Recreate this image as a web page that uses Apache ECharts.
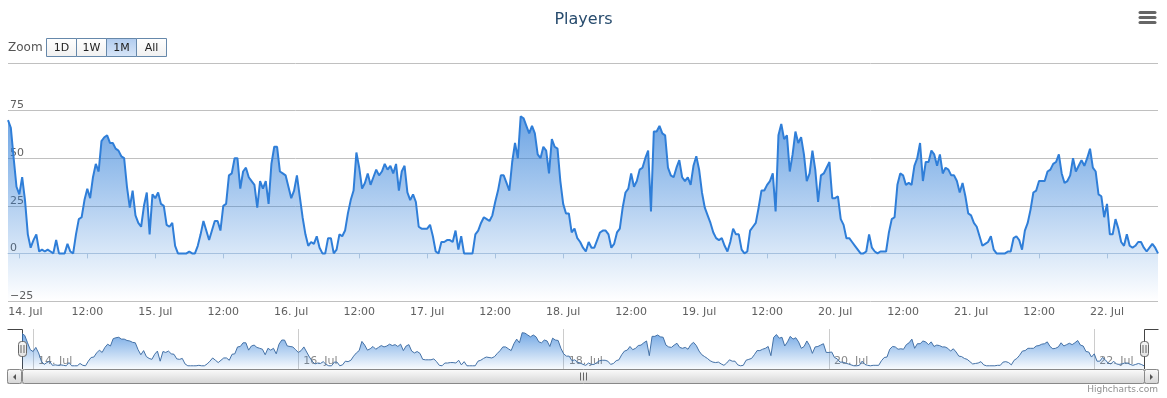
<!DOCTYPE html>
<html>
<head>
<meta charset="utf-8">
<title>Players</title>
<script src="https://cdn.jsdelivr.net/npm/echarts@6/dist/echarts.min.js"></script>
<style>
  html, body { margin: 0; padding: 0; background: #fff; }
  #chart { width: 1167px; height: 398px; }
</style>
</head>
<body>
<div id="chart"></div>
<script>
const FONT = '"Lucida Grande", "Lucida Sans Unicode", "DejaVu Sans", Verdana, sans-serif';

// half-hour samples, first one at 13 Jul 22:00 (UTC)
const startTime = Date.UTC(2013, 6, 13, 22, 0);
const stepMs = 30 * 60 * 1000;
const players = [
  70, 66, 50, 35, 31, 40, 28, 10, 3, 7, 10, 1, 2, 1, 2, 1, 0, 7, 0, 0,
  0, 5, 1, 0, 10, 18, 19, 28, 34, 29, 40, 47, 43, 59, 61, 62, 58, 58, 55, 54,
  51, 50, 35, 24, 33, 20, 16, 14, 25, 32, 10, 31, 29, 32, 26, 25, 15, 14, 16, 4,
  0, 0, 0, 0, 1, 0, 0, 4, 10, 17, 12, 7, 12, 17, 17, 12, 25, 26, 41, 42,
  50, 50, 34, 43, 45, 40, 38, 36, 24, 38, 34, 38, 26, 47, 56, 56, 43, 42, 41, 35,
  29, 33, 41, 30, 19, 10, 4, 6, 5, 9, 3, 0, 0, 8, 8, 0, 2, 10, 9, 12,
  21, 28, 33, 53, 45, 34, 37, 42, 36, 40, 44, 41, 43, 47, 44, 46, 42, 47, 33, 43,
  46, 32, 28, 31, 27, 14, 13, 13, 13, 15, 9, 1, 0, 6, 6, 7, 7, 6, 12, 2,
  9, 0, 0, 0, 0, 10, 12, 16, 19, 18, 17, 20, 27, 33, 41, 41, 37, 33, 48, 58,
  50, 72, 71, 67, 63, 67, 63, 52, 50, 56, 54, 42, 60, 56, 55, 38, 26, 21, 21, 11,
  13, 8, 6, 3, 1, 6, 3, 3, 7, 11, 12, 12, 10, 3, 5, 11, 13, 24, 32, 34,
  42, 35, 38, 44, 45, 50, 54, 22, 64, 64, 67, 63, 62, 45, 41, 40, 45, 49, 40, 38,
  40, 36, 46, 51, 44, 32, 24, 20, 16, 11, 8, 7, 8, 4, 1, 6, 13, 10, 10, 2,
  0, 1, 12, 14, 16, 24, 33, 33, 36, 38, 42, 22, 62, 68, 60, 62, 43, 52, 64, 58,
  61, 52, 38, 42, 54, 44, 27, 41, 42, 45, 48, 29, 29, 30, 18, 15, 8, 8, 6, 4,
  2, 0, 0, 1, 10, 3, 1, 0, 1, 1, 1, 11, 18, 19, 36, 42, 41, 36, 37, 36,
  46, 50, 58, 38, 48, 48, 54, 52, 46, 52, 42, 45, 44, 41, 41, 38, 32, 37, 30, 21,
  20, 16, 14, 9, 4, 5, 6, 9, 2, 0, 0, 0, 0, 1, 1, 8, 9, 7, 2, 12,
  16, 23, 32, 33, 38, 38, 38, 43, 44, 47, 48, 52, 42, 37, 38, 41, 50, 43, 46, 49,
  46, 50, 55, 45, 43, 31, 30, 19, 26, 10, 10, 18, 13, 6, 4, 10, 4, 3, 4, 6,
  6, 3, 1, 3, 5, 3, 0
];

// x axis ticks every 12h from 14 Jul 00:00
const tickLabels = ['14. Jul', '12:00', '15. Jul', '12:00', '16. Jul', '12:00', '17. Jul', '12:00',
  '18. Jul', '12:00', '19. Jul', '12:00', '20. Jul', '12:00', '21. Jul', '12:00', '22. Jul'];
// navigator ticks every 2 days
const navLabels = ['14. Jul', '16. Jul', '18. Jul', '20. Jul', '22. Jul'];
const rangeButtons = ['1D', '1W', '1M', 'All'];
const selectedButton = '1M';

const HOUR = 3600 * 1000;
const day0 = Date.UTC(2013, 6, 14);
const seriesData = players.map((v, i) => [startTime + i * stepMs, v]);
const tickTimes = tickLabels.map((_, i) => day0 + i * 12 * HOUR);
const navTimes = navLabels.map((_, i) => day0 + i * 48 * HOUR);
const xMin = seriesData[0][0];
const xMax = seriesData[seriesData.length - 1][0];

const blue = '#2f7ed8';
const areaFill = (a0, a1) => new echarts.graphic.LinearGradient(0, 0, 0, 1, [
  { offset: 0, color: 'rgba(47,126,216,' + a0 + ')' },
  { offset: 1, color: 'rgba(47,126,216,' + a1 + ')' }
]);
const vGrad = (c0, c1) => new echarts.graphic.LinearGradient(0, 0, 0, 1, [
  { offset: 0, color: c0 }, { offset: 1, color: c1 }
]);

// range selector buttons
const graphics = [
  { type: 'text', x: 8, y: 48, style: { text: 'Zoom', font: '12px ' + FONT, fill: '#555', verticalAlign: 'middle' } }
];
rangeButtons.forEach((b, i) => {
  const x = 46.5 + i * 30;
  const sel = b === selectedButton;
  graphics.push({
    type: 'rect', shape: { x: x, y: 38.5, width: 30, height: 18 },
    style: { fill: sel ? vGrad('#b0cbee', '#d8e6f8') : vGrad('#ffffff', '#f0f0f0'), stroke: '#68a', lineWidth: 1 }
  });
  graphics.push({
    type: 'text', x: x + 15, y: 48,
    style: { text: b, font: '11px ' + FONT, fill: '#222', align: 'center', verticalAlign: 'middle' }
  });
});

// export menu icon
[12.5, 17.5, 22.5].forEach(y => {
  graphics.push({
    type: 'line', shape: { x1: 1140, y1: y, x2: 1155, y2: y },
    style: { stroke: '#666', lineWidth: 3, lineCap: 'round' }
  });
});

// navigator outline
graphics.push({ type: 'polyline', shape: { points: [[7.5, 329.5], [22.5, 329.5], [22.5, 369.5]] }, style: { stroke: '#444', lineWidth: 1, fill: null } });
graphics.push({ type: 'polyline', shape: { points: [[1144.5, 369.5], [1144.5, 329.5], [1158.5, 329.5]] }, style: { stroke: '#444', lineWidth: 1, fill: null } });

// navigator handles
[22.5, 1144.5].forEach(cx => {
  graphics.push({
    type: 'rect', shape: { x: cx - 4, y: 341.5, width: 8, height: 15, r: 3 },
    style: { fill: vGrad('#f6f6f6', '#e2e2e2'), stroke: '#666', lineWidth: 1 }, z: 10
  });
  [cx - 1.5, cx + 1.5].forEach(lx => graphics.push({
    type: 'line', shape: { x1: lx, y1: 345, x2: lx, y2: 353 }, style: { stroke: '#666', lineWidth: 1 }, z: 11
  }));
});

// scrollbar
graphics.push({
  type: 'rect', shape: { x: 7.5, y: 369.5, width: 1151, height: 14 },
  style: { fill: vGrad('#eeeeee', '#ffffff'), stroke: '#ccc', lineWidth: 1 }
});
graphics.push({
  type: 'rect', shape: { x: 22.5, y: 369.5, width: 1122, height: 14, r: 2 },
  style: { fill: vGrad('#fcfcfc', '#d4d4d4'), stroke: '#888', lineWidth: 1 }
});
[7.5, 1144.5].forEach((x, i) => {
  graphics.push({
    type: 'rect', shape: { x: x, y: 369.5, width: 14, height: 14, r: 2 },
    style: { fill: vGrad('#fcfcfc', '#d4d4d4'), stroke: '#888', lineWidth: 1 }
  });
  const c = x + 7;
  graphics.push({
    type: 'polygon',
    shape: { points: i === 0 ? [[c + 1.5, 374], [c + 1.5, 380], [c - 1.5, 377]] : [[c - 1.5, 374], [c - 1.5, 380], [c + 1.5, 377]] },
    style: { fill: '#555' }
  });
});
[580.5, 583.5, 586.5].forEach(x => graphics.push({
  type: 'line', shape: { x1: x, y1: 372.5, x2: x, y2: 380.5 }, style: { stroke: '#666', lineWidth: 1 }
}));

// credits
graphics.push({
  type: 'text', right: 9, top: 385,
  style: { text: 'Highcharts.com', font: '9px ' + FONT, fill: '#909090' }
});

const chart = echarts.init(document.getElementById('chart'));

const option = {
  backgroundColor: '#fff',
  animation: false,
  textStyle: { fontFamily: FONT },
  title: {
    text: 'Players',
    left: 'center',
    top: 7,
    textStyle: { fontSize: 16, fontWeight: 'normal', color: '#274b6d', fontFamily: FONT }
  },
  grid: [
    { left: 8, right: 9, top: 63, height: 238 },
    { left: 22, right: 23, top: 329, height: 40 }
  ],
  xAxis: [
    {
      type: 'value',
      gridIndex: 0,
      min: xMin,
      max: xMax,
      axisLine: { lineStyle: { color: '#C0D0E0' } },
      axisTick: { show: true, length: 5, customValues: tickTimes, lineStyle: { color: '#C0D0E0' } },
      axisLabel: {
        customValues: tickTimes,
        margin: 6,
        color: '#606060',
        fontSize: 11,
        fontFamily: FONT,
        formatter: v => {
          const i = tickTimes.indexOf(v);
          if (i < 0) return '';
          // first label is pushed inside the chart, as in the original
          return i === 0 ? '{first|' + tickLabels[i] + '}' : tickLabels[i];
        },
        rich: { first: { padding: [0, 0, 0, 12], color: '#606060', fontSize: 11, fontFamily: FONT } }
      },
      splitLine: { show: false }
    },
    {
      type: 'value',
      gridIndex: 1,
      min: xMin,
      max: xMax,
      axisLine: { show: false },
      axisTick: { show: false, customValues: navTimes },
      axisLabel: {
        customValues: navTimes,
        inside: true,
        margin: 2,
        align: 'left',
        padding: [0, 0, 0, 5],
        color: '#888',
        fontSize: 11,
        fontFamily: FONT,
        formatter: v => {
          const i = navTimes.indexOf(v);
          return i >= 0 ? navLabels[i] : '';
        }
      },
      splitLine: { show: true, lineStyle: { color: '#cccccc', width: 1 } }
    }
  ],
  yAxis: [
    {
      type: 'value',
      gridIndex: 0,
      min: -25,
      max: 100,
      interval: 25,
      axisLine: { show: false },
      axisTick: { show: false },
      axisLabel: {
        inside: true,
        margin: 2,
        verticalAlign: 'bottom',
        lineHeight: 10,
        showMaxLabel: false,
        color: '#606060',
        fontSize: 11,
        fontFamily: FONT,
        formatter: v => (v < 0 ? '\u2212' + Math.abs(v) : String(v))
      },
      splitLine: { lineStyle: { color: '#C0C0C0', width: 1 } }
    },
    {
      type: 'value',
      gridIndex: 1,
      min: -7,
      max: 80,
      show: false,
      splitLine: { show: false }
    }
  ],
  series: [
    {
      name: 'Players',
      type: 'line',
      xAxisIndex: 0,
      yAxisIndex: 0,
      data: seriesData,
      showSymbol: false,
      lineStyle: { color: blue, width: 2 },
      itemStyle: { color: blue },
      areaStyle: { color: areaFill(1, 0), origin: 'start' },
      z: 3
    },
    {
      name: 'Navigator',
      type: 'line',
      xAxisIndex: 1,
      yAxisIndex: 1,
      data: seriesData,
      showSymbol: false,
      lineStyle: { color: '#4572A7', width: 1 },
      areaStyle: { color: areaFill(0.95, 0.05), origin: 'start' },
      z: 3
    }
  ],
  graphic: graphics
};

chart.setOption(option);
</script>
</body>
</html>
